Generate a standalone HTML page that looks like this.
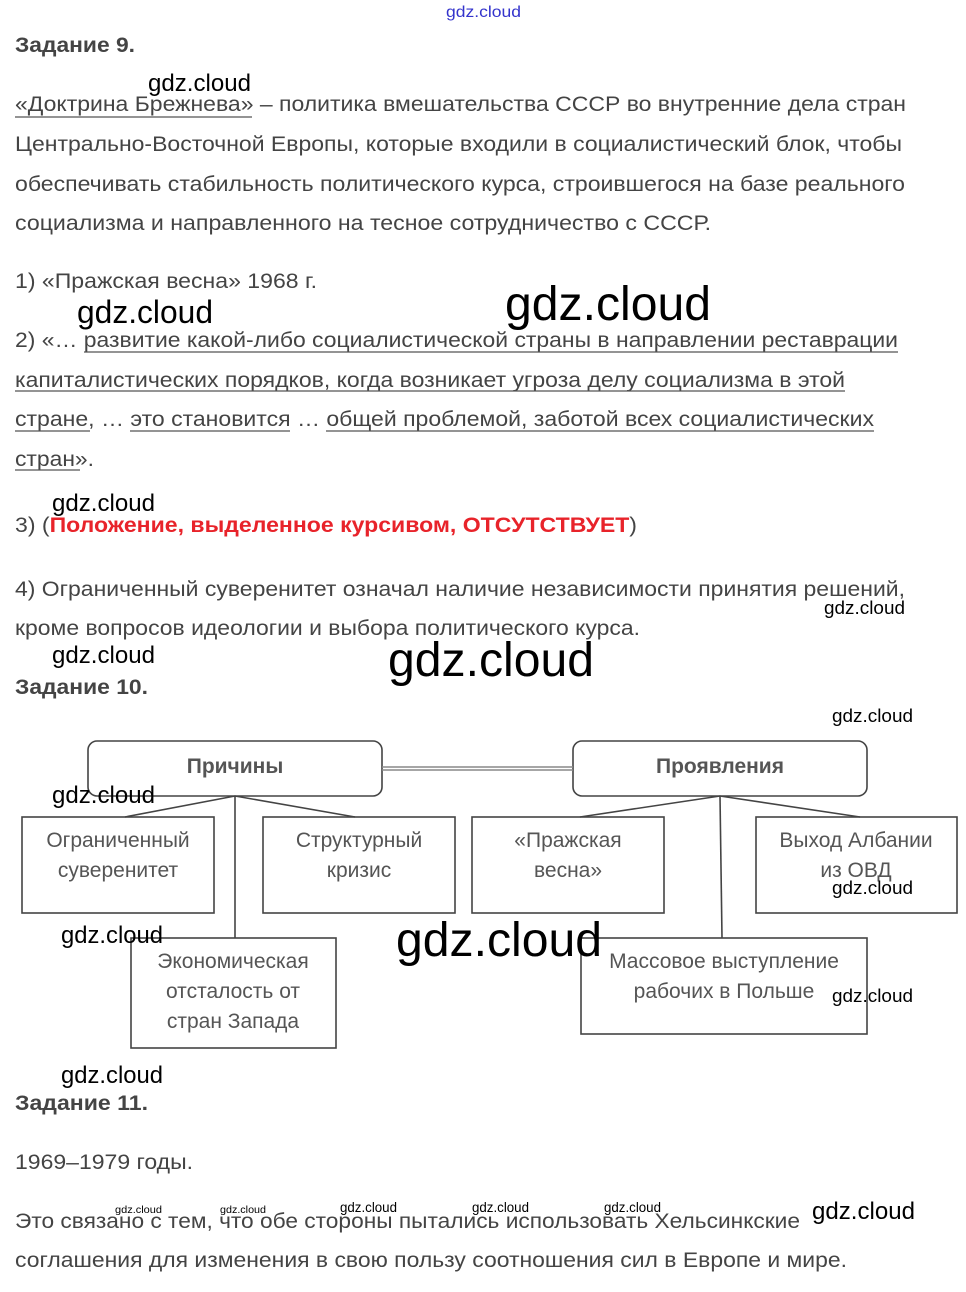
<!DOCTYPE html>
<html><head><meta charset="utf-8"><style>
html,body{margin:0;padding:0;background:#fff;}
svg{display:block;}
.t{font-family:"Liberation Sans",sans-serif;font-size:21px;fill:#444;}
.b{font-weight:bold;}
.w{font-family:"Liberation Sans",sans-serif;fill:#000;}
.d{font-family:"Liberation Sans",sans-serif;font-size:21px;fill:#555;text-anchor:middle;}
</style></head><body>
<svg width="966" height="1292" viewBox="0 0 966 1292" xmlns="http://www.w3.org/2000/svg">
<g class="t">
<text x="15" y="52" class="b" textLength="120" lengthAdjust="spacingAndGlyphs">Задание 9.</text>
<text x="15" y="111" textLength="891" lengthAdjust="spacingAndGlyphs">«Доктрина Брежнева» – политика вмешательства СССР во внутренние дела стран</text>
<text x="15" y="151" textLength="887" lengthAdjust="spacingAndGlyphs">Центрально-Восточной Европы, которые входили в социалистический блок, чтобы</text>
<text x="15" y="191" textLength="890" lengthAdjust="spacingAndGlyphs">обеспечивать стабильность политического курса, строившегося на базе реального</text>
<text x="15" y="230" textLength="696" lengthAdjust="spacingAndGlyphs">социализма и направленного на тесное сотрудничество с СССР.</text>
<text x="15" y="288" textLength="302" lengthAdjust="spacingAndGlyphs">1) «Пражская весна» 1968 г.</text>
<text x="15" y="347" textLength="883" lengthAdjust="spacingAndGlyphs">2) «… развитие какой-либо социалистической страны в направлении реставрации</text>
<text x="15" y="387" textLength="830" lengthAdjust="spacingAndGlyphs">капиталистических порядков, когда возникает угроза делу социализма в этой</text>
<text x="15" y="426" textLength="859" lengthAdjust="spacingAndGlyphs">стране, … это становится … общей проблемой, заботой всех социалистических</text>
<text x="15" y="466" textLength="79" lengthAdjust="spacingAndGlyphs">стран».</text>
<text x="15" y="532" textLength="622" lengthAdjust="spacingAndGlyphs">3) (<tspan fill="#e8232a" font-weight="bold">Положение, выделенное курсивом, ОТСУТСТВУЕТ</tspan>)</text>
<text x="15" y="596" textLength="890" lengthAdjust="spacingAndGlyphs">4) Ограниченный суверенитет означал наличие независимости принятия решений,</text>
<text x="15" y="635" textLength="625" lengthAdjust="spacingAndGlyphs">кроме вопросов идеологии и выбора политического курса.</text>
<text x="15" y="694" class="b" textLength="133" lengthAdjust="spacingAndGlyphs">Задание 10.</text>
<text x="15" y="1110" class="b" textLength="133" lengthAdjust="spacingAndGlyphs">Задание 11.</text>
<text x="15" y="1169" textLength="178" lengthAdjust="spacingAndGlyphs">1969–1979 годы.</text>
<text x="15" y="1228" textLength="785" lengthAdjust="spacingAndGlyphs">Это связано с тем, что обе стороны пытались использовать Хельсинкские</text>
<text x="15" y="1267" textLength="832" lengthAdjust="spacingAndGlyphs">соглашения для изменения в свою пользу соотношения сил в Европе и мире.</text>
</g>
<g stroke="#555" stroke-width="1.3">
<line x1="15" y1="117" x2="252" y2="117"/>
<line x1="84" y1="352" x2="898" y2="352"/>
<line x1="15" y1="391" x2="845" y2="391"/>
<line x1="15" y1="431" x2="90" y2="431"/>
<line x1="130" y1="431" x2="290" y2="431"/>
<line x1="326" y1="431" x2="874" y2="431"/>
<line x1="15" y1="470" x2="80" y2="470"/>
</g>
<!-- diagram -->
<g fill="none" stroke="#444" stroke-width="1.6">
<rect x="88" y="741" width="294" height="55" rx="9"/>
<rect x="573" y="741" width="294" height="55" rx="9"/>
<line x1="382" y1="767" x2="573" y2="767" stroke="#888"/>
<line x1="382" y1="770" x2="573" y2="770" stroke="#888"/>
<rect x="22" y="817" width="192" height="96"/>
<rect x="263" y="817" width="192" height="96"/>
<rect x="472" y="817" width="192" height="96"/>
<rect x="756" y="817" width="201" height="96"/>
<rect x="131" y="938" width="205" height="110"/>
<rect x="581" y="938" width="286" height="96"/>
<line x1="235" y1="796" x2="125" y2="817"/>
<line x1="235" y1="796" x2="355" y2="817"/>
<line x1="235" y1="796" x2="235" y2="938"/>
<line x1="720" y1="796" x2="580" y2="817"/>
<line x1="720" y1="796" x2="860" y2="817"/>
<line x1="720" y1="796" x2="722" y2="938"/>
</g>
<g>
<text class="d" x="235" y="773" font-weight="bold" fill="#333">Причины</text>
<text class="d" x="720" y="773" font-weight="bold" fill="#333">Проявления</text>
<text class="d" x="118" y="847">Ограниченный</text>
<text class="d" x="118" y="877">суверенитет</text>
<text class="d" x="359" y="847">Структурный</text>
<text class="d" x="359" y="877">кризис</text>
<text class="d" x="568" y="847">«Пражская</text>
<text class="d" x="568" y="877">весна»</text>
<text class="d" x="856" y="847">Выход Албании</text>
<text class="d" x="856" y="877">из ОВД</text>
<text class="d" x="233" y="968">Экономическая</text>
<text class="d" x="233" y="998">отсталость от</text>
<text class="d" x="233" y="1028">стран Запада</text>
<text class="d" x="724" y="968">Массовое выступление</text>
<text class="d" x="724" y="998">рабочих в Польше</text>
</g>
<!-- watermarks -->
<g class="w">
<text x="446" y="17" font-size="16" fill="#3333cc" textLength="75" lengthAdjust="spacingAndGlyphs">gdz.cloud</text>
<text x="148" y="91" font-size="24" textLength="103" lengthAdjust="spacingAndGlyphs">gdz.cloud</text>
<text x="77" y="323" font-size="32" textLength="136" lengthAdjust="spacingAndGlyphs">gdz.cloud</text>
<text x="505" y="320" font-size="48" textLength="206" lengthAdjust="spacingAndGlyphs">gdz.cloud</text>
<text x="52" y="511" font-size="24" textLength="103" lengthAdjust="spacingAndGlyphs">gdz.cloud</text>
<text x="824" y="614" font-size="18" textLength="81" lengthAdjust="spacingAndGlyphs">gdz.cloud</text>
<text x="52" y="663" font-size="24" textLength="103" lengthAdjust="spacingAndGlyphs">gdz.cloud</text>
<text x="388" y="676" font-size="48" textLength="206" lengthAdjust="spacingAndGlyphs">gdz.cloud</text>
<text x="832" y="722" font-size="18" textLength="81" lengthAdjust="spacingAndGlyphs">gdz.cloud</text>
<text x="52" y="803" font-size="24" textLength="103" lengthAdjust="spacingAndGlyphs">gdz.cloud</text>
<text x="832" y="894" font-size="18" textLength="81" lengthAdjust="spacingAndGlyphs">gdz.cloud</text>
<text x="61" y="943" font-size="24" textLength="102" lengthAdjust="spacingAndGlyphs">gdz.cloud</text>
<text x="396" y="956" font-size="48" textLength="206" lengthAdjust="spacingAndGlyphs">gdz.cloud</text>
<text x="832" y="1002" font-size="18" textLength="81" lengthAdjust="spacingAndGlyphs">gdz.cloud</text>
<text x="61" y="1083" font-size="24" textLength="102" lengthAdjust="spacingAndGlyphs">gdz.cloud</text>
<text x="115" y="1213" font-size="10" textLength="47" lengthAdjust="spacingAndGlyphs">gdz.cloud</text>
<text x="220" y="1213" font-size="10" textLength="46" lengthAdjust="spacingAndGlyphs">gdz.cloud</text>
<text x="340" y="1212" font-size="14" textLength="57" lengthAdjust="spacingAndGlyphs">gdz.cloud</text>
<text x="472" y="1212" font-size="14" textLength="57" lengthAdjust="spacingAndGlyphs">gdz.cloud</text>
<text x="604" y="1212" font-size="14" textLength="57" lengthAdjust="spacingAndGlyphs">gdz.cloud</text>
<text x="812" y="1219" font-size="24" textLength="103" lengthAdjust="spacingAndGlyphs">gdz.cloud</text>
</g>
</svg>
</body></html>
